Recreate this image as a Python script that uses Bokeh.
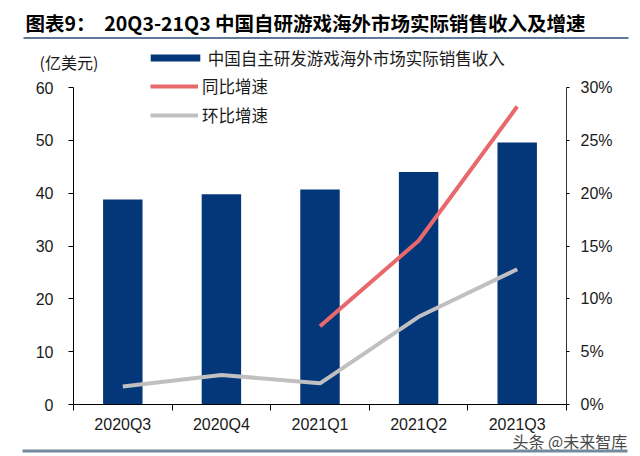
import math
from bokeh.plotting import figure
from bokeh.models import (ColumnDataSource, Range1d, LinearAxis, FixedTicker,
                          NumeralTickFormatter, Legend, LegendItem, Label, BoxAnnotation)
from bokeh.embed import file_html
from bokeh.resources import INLINE

# ---- data ----
quarters = ["2020Q3", "2020Q4", "2021Q1", "2021Q2", "2021Q3"]
revenue = [38.8, 39.8, 40.7, 44.0, 49.6]            # 亿美元
yoy = [math.nan, math.nan, 0.074, 0.155, 0.282]      # 同比增速
qoq = [0.017, 0.028, 0.020, 0.083, 0.128]            # 环比增速
left_ticks = [0, 10, 20, 30, 40, 50, 60]
right_ticks = [0, 0.05, 0.10, 0.15, 0.20, 0.25, 0.30]

title_text = "图表9：\u00a0 20Q3-21Q3 中国自研游戏海外市场实际销售收入及增速"
unit_text = "(亿美元)"
bar_label = "中国自主研发游戏海外市场实际销售收入"
yoy_label = "同比增速"
qoq_label = "环比增速"
watermark = "头条 @未来智库"

BAR = "#04377A"
RED = "#E8686C"
GRAY = "#C0C0C0"
TXT = "#1a1a1a"

# ---- layout (pixels from the canvas top-left) ----
W, H = 636, 453
AX_L, AX_R = 73, 566        # left / right axis x
AX_B, AX_T = 404, 87        # y of 0 and of 60

n = len(quarters)
ppx = (AX_R - AX_L) / n
ppy = (AX_B - AX_T) / left_ticks[-1]
x_start, x_end = -AX_L / ppx, (W - AX_L) / ppx
y_start, y_end = -(H - AX_B) / ppy, AX_B / ppy
k = right_ticks[-1] / left_ticks[-1]

def sy(py):  # screen y measured upward from the canvas bottom
    return H - py

centers = [i + 0.5 for i in range(n)]
src = ColumnDataSource(dict(x=centers, rev=revenue, yoy=yoy, qoq=qoq))

p = figure(width=W, height=H, output_backend="svg", toolbar_location=None,
           x_range=Range1d(x_start, x_end), y_range=Range1d(y_start, y_end),
           x_axis_location=None, y_axis_location=None, min_border=0)
p.extra_y_ranges = {"pct": Range1d(y_start * k, y_end * k)}
p.outline_line_color = None
p.xgrid.visible = False
p.ygrid.visible = False
p.background_fill_color = "white"
p.border_fill_color = "white"

bars = p.vbar(x="x", top="rev", width=0.4, source=src, fill_color=BAR, line_color=None)
l_yoy = p.line(x="x", y="yoy", source=src, y_range_name="pct", line_color=RED, line_width=4)
l_qoq = p.line(x="x", y="qoq", source=src, y_range_name="pct", line_color=GRAY, line_width=4)

# x axis
xa = LinearAxis(fixed_location=0, bounds=(0, n),
                ticker=FixedTicker(ticks=centers, minor_ticks=list(range(n + 1))))
xa.major_label_overrides = {c: q for c, q in zip(centers, quarters)}
xa.major_tick_in = 0
xa.major_tick_out = 0
xa.minor_tick_in = 0
xa.minor_tick_out = 6
xa.minor_tick_line_color = "black"
xa.axis_line_color = "black"
xa.major_label_standoff = 5
xa.major_label_text_font = "Liberation Sans"
xa.major_label_text_font_size = "16px"
xa.major_label_text_color = TXT
p.add_layout(xa, "below")

# left axis
ya = LinearAxis(fixed_location=0, bounds=(0, left_ticks[-1]), ticker=FixedTicker(ticks=left_ticks))
ya.major_tick_in = 0
ya.major_tick_out = 5
ya.minor_tick_line_color = None
ya.axis_line_color = "black"
ya.major_label_standoff = 15
ya.major_label_text_font = "Liberation Sans"
ya.major_label_text_font_size = "16px"
ya.major_label_text_color = TXT
p.add_layout(ya, "left")

# right axis
ra = LinearAxis(y_range_name="pct", fixed_location=n, bounds=(0, right_ticks[-1]),
                ticker=FixedTicker(ticks=right_ticks),
                formatter=NumeralTickFormatter(format="0%"))
ra.major_tick_in = 0
ra.major_tick_out = 3
ra.minor_tick_line_color = None
ra.axis_line_color = "#333333"
ra.major_label_standoff = 11
ra.major_label_text_font = "Liberation Sans"
ra.major_label_text_font_size = "16px"
ra.major_label_text_color = TXT
p.add_layout(ra, "right")

# legends (one per item to place them like the reference)
def make_legend(item, x0, cy, gw, gh, standoff):
    lg = Legend(items=[item], location=(x0, sy(cy) - 10), orientation="vertical",
                glyph_width=gw, glyph_height=gh, label_height=20,
                label_standoff=standoff, padding=0, margin=0, spacing=0,
                border_line_color=None, background_fill_alpha=0,
                label_text_font="Noto Sans CJK SC", label_text_font_size="16.5px",
                label_text_color=TXT)
    p.add_layout(lg, "center")

make_legend(LegendItem(label=bar_label, renderers=[bars]), 143.8, 59.5, 62, 9, 2)
make_legend(LegendItem(label=yoy_label, renderers=[l_yoy]), 150, 87.7, 48, 20, 4)
make_legend(LegendItem(label=qoq_label, renderers=[l_qoq]), 150, 117, 48, 20, 4)

# texts
p.add_layout(Label(x=25, y=sy(22), x_units="screen", y_units="screen", text=title_text,
                   text_font="Noto Sans CJK SC", text_font_style="bold",
                   text_font_size="19.5px", text_color="black", text_baseline="middle"))
p.add_layout(Label(x=39, y=sy(61), x_units="screen", y_units="screen", text=unit_text,
                   text_font="Noto Sans CJK SC", text_font_size="16px",
                   text_color=TXT, text_baseline="middle"))
p.add_layout(Label(x=512, y=sy(440), x_units="screen", y_units="screen", text=watermark,
                   text_font="Noto Sans CJK SC", text_font_size="16px",
                   text_color="#4a4a4a", text_baseline="middle"))

# rules
p.add_layout(BoxAnnotation(left=23, right=628, top=36.5, bottom=38.5,
                           left_units="canvas", right_units="canvas",
                           top_units="canvas", bottom_units="canvas",
                           fill_color="#5F7A96", fill_alpha=1, line_color=None))
p.add_layout(BoxAnnotation(left=22, right=627, top=449, bottom=452,
                           left_units="canvas", right_units="canvas",
                           top_units="canvas", bottom_units="canvas",
                           fill_color="#74899C", fill_alpha=1, line_color=None))

open("out.html", "w").write(file_html(p, INLINE))
